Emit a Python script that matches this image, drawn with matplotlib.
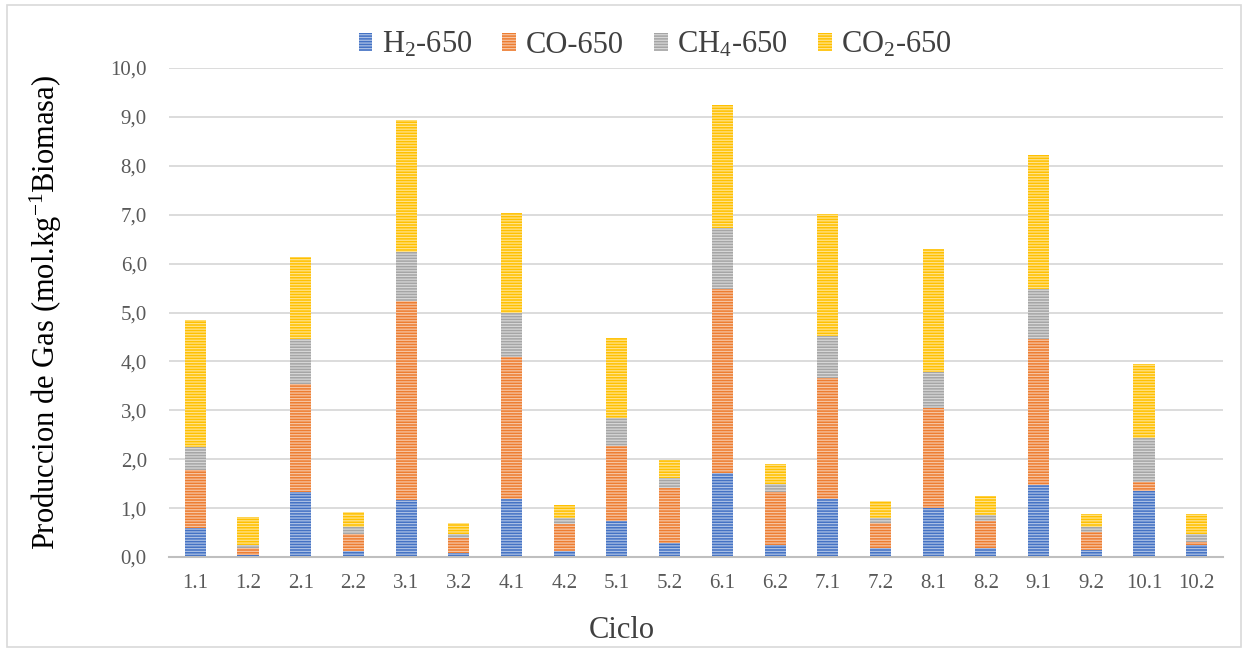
import matplotlib
matplotlib.use('Agg')
import matplotlib.pyplot as plt
from matplotlib.patches import Rectangle
import numpy as np

plt.rcParams['font.family'] = ['Liberation Serif', 'DejaVu Serif']
plt.rcParams['mathtext.fontset'] = 'custom'
plt.rcParams['mathtext.rm'] = 'Liberation Serif'
plt.rcParams['mathtext.it'] = 'Liberation Serif:italic'
plt.rcParams['hatch.linewidth'] = 0.9

# data
ciclos = ['1.1', '1.2', '2.1', '2.2', '3.1', '3.2', '4.1', '4.2', '5.1', '5.2',
          '6.1', '6.2', '7.1', '7.2', '8.1', '8.2', '9.1', '9.2', '10.1', '10.2']
h2 = [0.59, 0.05, 1.32, 0.12, 1.16, 0.08, 1.19, 0.12, 0.74, 0.29,
      1.72, 0.24, 1.18, 0.18, 1.00, 0.18, 1.48, 0.15, 1.34, 0.25]
co = [1.19, 0.13, 2.22, 0.36, 4.07, 0.31, 2.89, 0.55, 1.53, 1.12,
      3.76, 1.08, 2.49, 0.51, 2.05, 0.56, 2.97, 0.36, 0.19, 0.06]
ch4 = [0.46, 0.07, 0.92, 0.14, 1.01, 0.08, 0.92, 0.13, 0.57, 0.21,
       1.25, 0.17, 0.84, 0.11, 0.74, 0.11, 1.03, 0.10, 0.90, 0.17]
co2 = [2.61, 0.57, 1.68, 0.30, 2.70, 0.23, 2.03, 0.26, 1.64, 0.36,
       2.52, 0.41, 2.50, 0.35, 2.51, 0.39, 2.74, 0.27, 1.52, 0.39]

series = [('H$_2$-650', h2, '#4472C4'),
          ('CO-650', co, '#ED7D31'),
          ('CH$_4$-650', ch4, '#A5A5A5'),
          ('CO$_2$-650', co2, '#FFC000')]

fig = plt.figure(figsize=(12.48, 6.52), dpi=100)
ax = fig.add_axes([0.1354, 0.1457, 0.8446, 0.75])

x = np.arange(len(ciclos))
bottom = np.zeros(len(ciclos))
for name, vals, col in series:
    # white horizontal stripes over the fill, like the Excel pattern
    ax.bar(x, vals, 0.4, bottom=bottom, color=col, edgecolor=(1, 1, 1, 0.55),
           linewidth=0, hatch='------', label=name, zorder=3)
    bottom += np.array(vals)

ax.set_xlim(-0.5, len(ciclos) - 0.5)
ax.set_ylim(0, 10)
ax.set_yticks(np.arange(0, 10.1, 1))
ax.set_yticklabels([f'{v:.1f}'.replace('.', ',') for v in np.arange(0, 10.1, 1)])
ax.set_xticks(x)
ax.set_xticklabels(ciclos)
ax.tick_params(axis='both', length=0, labelsize=15, colors='#595959')
ax.tick_params(axis='y', pad=16)
ax.tick_params(axis='x', pad=12)

ax.grid(axis='y', color='#D9D9D9', linewidth=1.3, zorder=0)
for s in ['top', 'right', 'left']:
    ax.spines[s].set_visible(False)
ax.spines['bottom'].set_color('#BFBFBF')
ax.spines['bottom'].set_linewidth(1.5)
ax.spines['bottom'].set_zorder(4)

ax.set_ylabel('Produccion de Gas (mol.kg$^{-1}$Biomasa)', fontsize=22, color='black')
ax.yaxis.set_label_coords(-0.1, 0.5)
ax.set_xlabel('Ciclo', fontsize=22, color='#404040')
ax.xaxis.set_label_coords(0.43, -0.12)

fig.legend(loc='center', bbox_to_anchor=(0.525, 0.931), ncol=4, frameon=False,
           fontsize=22, handlelength=0.45, handleheight=0.55, handletextpad=0.3,
           columnspacing=1.0, labelcolor='#404040')

fig.patches.append(Rectangle((0.006, 0.008), 0.988, 0.985, transform=fig.transFigure,
                             fill=False, edgecolor='#D9D9D9', linewidth=1.2))

fig.savefig('out.png', dpi=100)
